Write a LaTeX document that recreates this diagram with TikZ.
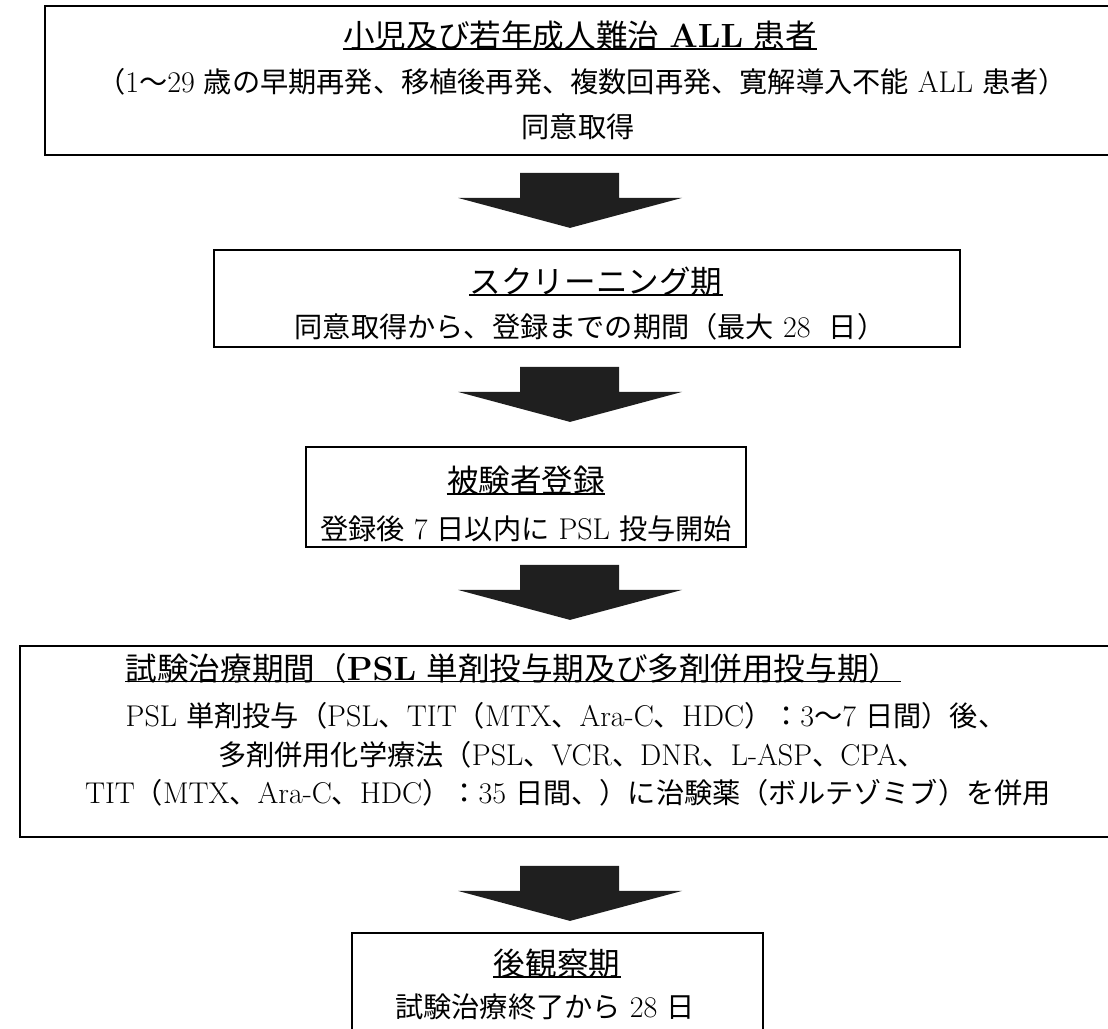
\documentclass[tikz,border=0pt]{standalone}
\usepackage{fontspec}
\newfontfamily\jp{Noto Sans CJK JP}[Scale=0.94]
\usetikzlibrary{fit,calc}
\tikzset{
  box/.style={draw=black, line width=0.9pt, inner sep=0pt},
  body/.style={font=\fontsize{15pt}{17pt}\selectfont, inner sep=0pt},
  ttl/.style={font=\fontsize{16.8pt}{19pt}\selectfont, inner sep=0pt},
  ul/.style={line width=0.8pt},
  blockdown/.pic={\fill[black!88] (-50,0) -- (49,0) -- (49,25) -- (112,25) -- (0,55) -- (-112,25) -- (-50,25) -- cycle;}
}
\begin{document}
\begin{tikzpicture}[x=0.5pt,y=-0.5pt]
\useasboundingbox (0,0) rectangle (1108,1028);
\clip (0,0) rectangle (1108,1028);
\coordinate (ax) at (570,0);
% boxes
\node[box, fit={(45,6) (1118,155)}] (b1) {};
\node[box, fit={(214,250) (960,347)}] (b2) {};
\node[box, fit={(306,447) (746,547)}] (b3) {};
\node[box, fit={(20,646) (1118,837)}] (b4) {};
\node[box, fit={(352,933) (763,1045)}] (b5) {};
% box 1
\node[ttl] (t1) at (580,36) {{\jp 小児及び若年成人難治} \textbf{ALL} {\jp 患者}};
\draw[ul] ([yshift=1pt]t1.south west) -- ([yshift=1pt]t1.south east);
\node[body] (l1a) at (582,82) {{\jp （}1{\jp ～}29 {\jp 歳の早期再発、移植後再発、複数回再発、寛解導入不能} ALL {\jp 患者）}};
\node[body] (l1b) at (578,127) {{\jp 同意取得}};
% box 2
\node[ttl] (t2) at (596,282) {{\jp スクリーニング期}};
\draw[ul] ([yshift=1pt]t2.south west) -- ([yshift=1pt]t2.south east);
\node[body] (l2a) at (590,327) {{\jp 同意取得から、登録までの期間（最大} 28\ \ {\jp 日）}};
% box 3
\node[ttl] (t3) at (526,481) {{\jp 被験者登録}};
\draw[ul] ([yshift=1pt]t3.south west) -- ([yshift=1pt]t3.south east);
\node[body] (l3a) at (526,529) {{\jp 登録後} 7 {\jp 日以内に} PSL {\jp 投与開始}};
% box 4
\node[body] (l4a) at (566,716) {PSL {\jp 単剤投与（}PSL{\jp 、}TIT{\jp （}MTX{\jp 、}Ara-C{\jp 、}HDC{\jp ）：}3{\jp ～}7 {\jp 日間）後、}};
\node[body] (l4b) at (572,755) {{\jp 多剤併用化学療法（}PSL{\jp 、}VCR{\jp 、}DNR{\jp 、}L-ASP{\jp 、}CPA{\jp 、}};
\node[body] (l4c) at (568,793) {TIT{\jp （}MTX{\jp 、}Ara-C{\jp 、}HDC{\jp ）：}35 {\jp 日間、）に治験薬（ボルテゾミブ）を併用}};
\coordinate (t4y) at (0,668);
\node[ttl, anchor=west] (t4) at (l4a.west |- t4y) {{\jp 試験治療期間（}\textbf{PSL} {\jp 単剤投与期及び多剤併用投与期）}};
\draw[ul] ([yshift=1pt]t4.south west) -- ([yshift=1pt]t4.south east);
% box 5
\node[ttl] (t5) at (557,964) {{\jp 後観察期}};
\draw[ul] ([yshift=1pt]t5.south west) -- ([yshift=1pt]t5.south east);
\node[body] (l5a) at (545,1007) {{\jp 試験治療終了から} 28 {\jp 日}};
% block arrows
\pic at ($(b1.south -| ax)+(0,17)$) {blockdown};
\pic at ($(b2.south -| ax)+(0,19)$) {blockdown};
\pic at ($(b3.south -| ax)+(0,17)$) {blockdown};
\pic at ($(b4.south -| ax)+(0,28)$) {blockdown};
\end{tikzpicture}
\end{document}
